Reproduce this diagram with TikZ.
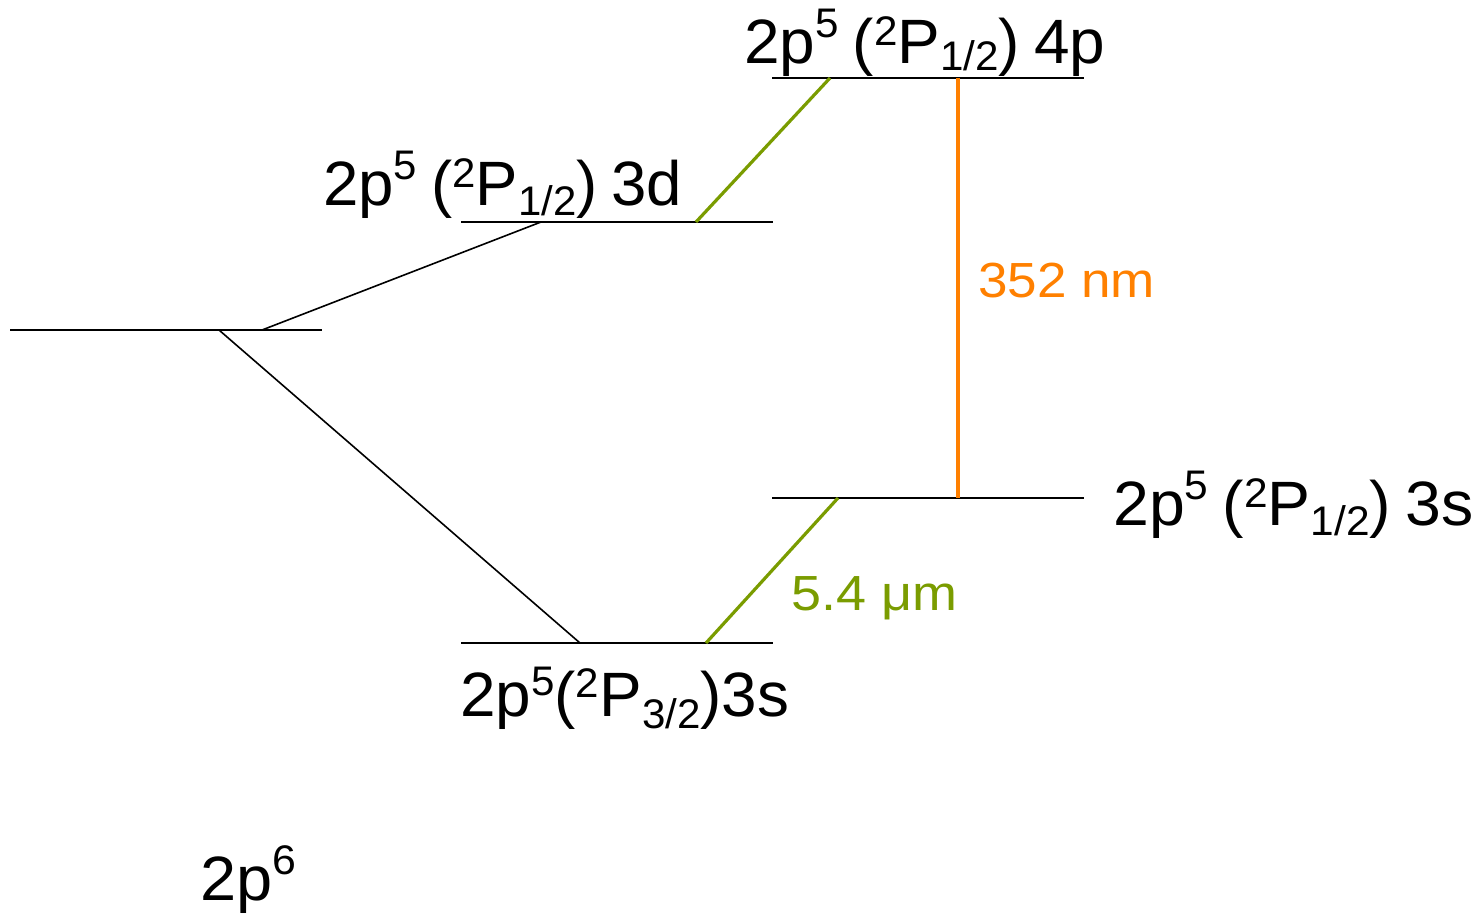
\documentclass[tikz,border=0pt]{standalone}
\usepackage{fontspec}
\usepackage{graphicx}
\setmainfont{Liberation Sans}
\definecolor{lgreen}{RGB}{122,156,0}
\definecolor{lorange}{RGB}{255,128,0}
\newcommand\supx[2][0.4em]{\raisebox{#1}{\fontsize{31}{31}\selectfont #2}}
\newcommand\subx[2][-0.16em]{\raisebox{#1}{\fontsize{31}{31}\selectfont #2}}
\newcommand\fitw[2]{\resizebox{#1}{\height}{#2}}
\newcommand\gap{\hspace{0.22em}}
\begin{document}
\begin{tikzpicture}[x=0.75pt,y=-0.75pt,
  level/.style={line width=1.5pt,black},
  link/.style={line width=1.2pt,black},
  gtrans/.style={line width=2.4pt,lgreen},
  otrans/.style={line width=2.4pt,lorange},
  lab/.style={anchor=base west,inner sep=0pt,font=\fontsize{47}{47}\selectfont},
  wl/.style={anchor=base west,inner sep=0pt,font=\fontsize{37}{37}\selectfont}]
\useasboundingbox (0,0) rectangle (1475,918);
% level end points
\coordinate (pL) at (772,78);  \coordinate (pR) at (1084,78);
\coordinate (dL) at (461,222); \coordinate (dR) at (773,222);
\coordinate (gL) at (10,330);  \coordinate (gR) at (322,330);
\coordinate (sL) at (772,498); \coordinate (sR) at (1084,498);
\coordinate (tL) at (461,643); \coordinate (tR) at (773,643);
% connection points
\coordinate (g1) at (262,330); \coordinate (d1) at (541,222);
\coordinate (g2) at (219,330); \coordinate (t1) at (580,643);
\coordinate (p1) at (830,78);  \coordinate (d2) at (696,222);
\coordinate (s1) at (838,498); \coordinate (t2) at (706,643);
\coordinate (p2) at (958,78);  \coordinate (s2) at (958,498);
% levels
\draw[level] (pL) -- (pR);
\draw[level] (dL) -- (dR);
\draw[level] (gL) -- (gR);
\draw[level] (sL) -- (sR);
\draw[level] (tL) -- (tR);
% links
\draw[link] (g1) -- (d1);
\draw[link] (g2) -- (t1);
\draw[gtrans] (p1) -- (d2);
\draw[gtrans] (s1) -- (t2);
\draw[otrans] (p2) -- (s2);
% labels
\node[lab] (l4p) at (744,63) {\fitw{270.75pt}{2p\supx{5}\gap(\supx[0.28em]{2}P\subx[-0.12em]{1/2})\gap4p}};
\node[lab] (l3d) at (323,205) {\fitw{269.25pt}{2p\supx{5}\gap(\supx[0.28em]{2}P\subx{1/2})\gap3d}};
\node[lab] (l3s1) at (1113,525) {\fitw{270pt}{2p\supx{5}\gap(\supx[0.28em]{2}P\subx{1/2})\gap3s}};
\node[lab] (l3s3) at (460,716) {\fitw{246.75pt}{2p\supx[0.32em]{5}(\supx[0.3em]{2}P\subx[-0.2em]{3/2})3s}};
\node[lab] (l2p6) at (200,900) {\fitw{72pt}{2p\supx{6}}};
\node[wl,text=lorange] (w352) at (978,297) {\fitw{132.75pt}{352 nm}};
\node[wl,text=lgreen] (w54) at (791,610) {\fitw{124.5pt}{5.4 μm}};
\end{tikzpicture}
\end{document}
